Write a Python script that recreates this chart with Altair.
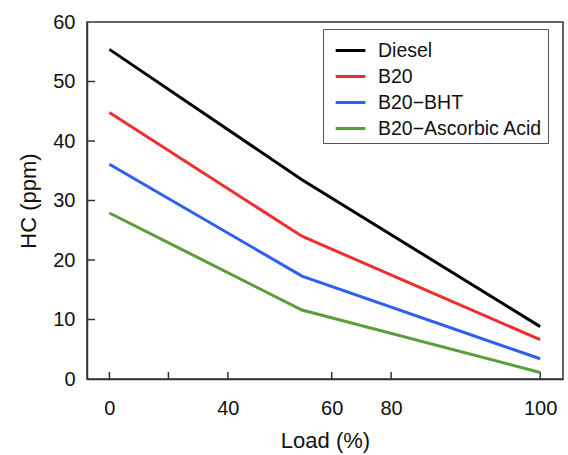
import altair as alt
import pandas as pd

# Load positions (in the chart's own axis units) and HC values
load = [0, 44.7, 100]
diesel = [55.4, 33.5, 8.8]
b20 = [44.8, 24.0, 6.6]
b20_bht = [36.1, 17.3, 3.4]
b20_aa = [27.9, 11.6, 1.1]

series_names = ["Diesel", "B20", "B20\u2212BHT", "B20\u2212Ascorbic Acid"]
series_colors = ["#000000", "#ee2f2f", "#2f5fee", "#5a9e3a"]

# Axis ticks as drawn in the figure
x_tick_pos = [0, 13.7, 27.5, 51.6, 65.4, 100]
x_tick_lab = ["0", "", "40", "60", "80", "100"]
y_ticks = [0, 10, 20, 30, 40, 50, 60]

rows = []
for name, vals in zip(series_names, [diesel, b20, b20_bht, b20_aa]):
    for l, v in zip(load, vals):
        rows.append({"load": l, "hc": v, "series": name})
df = pd.DataFrame(rows)

W, H = 476, 357
FONT = "Liberation Sans"

label_map = "{" + ",".join(f"'{p}':'{t}'" for p, t in zip(x_tick_pos, x_tick_lab)) + "}"

xscale = alt.Scale(domain=[-5.2, 105.3], nice=False, zero=False)
yscale = alt.Scale(domain=[0, 60], nice=False)

lines = alt.Chart(df).mark_line(strokeWidth=3).encode(
    x=alt.X("load:Q", scale=xscale,
            axis=alt.Axis(values=x_tick_pos, labelExpr=f"{label_map}[toString(datum.value)]",
                          title="Load (%)", tickSize=0, labelPadding=19, grid=False,
                          labelFontSize=20, labelFont=FONT, labelColor="#111",
                          titleFontSize=22, titleFont=FONT, titleFontWeight="normal",
                          titleColor="#111", titleX=W / 2, titleY=61,
                          titleBaseline="middle", titleAlign="center",
                          domainColor="#333", domainWidth=1.5, labelFlush=False)),
    y=alt.Y("hc:Q", scale=yscale,
            axis=alt.Axis(values=y_ticks, title="HC (ppm)", tickSize=0, labelPadding=12,
                          grid=False, labelFontSize=20, labelFont=FONT, labelColor="#111",
                          titleFontSize=22, titleFont=FONT, titleFontWeight="normal",
                          titleColor="#111", titleX=-59, titleY=H / 2, titleAngle=-90,
                          titleBaseline="middle", titleAlign="center",
                          domainColor="#333", domainWidth=1.5, labelFlush=False)),
    color=alt.Color("series:N",
                    scale=alt.Scale(domain=series_names, range=series_colors),
                    sort=series_names,
                    legend=alt.Legend(title=None, orient="none", legendX=236, legendY=7,
                                      symbolType="stroke", symbolSize=880,
                                      symbolStrokeWidth=3, labelFontSize=19.5,
                                      labelFont=FONT, labelColor="#111", labelLimit=0,
                                      strokeColor="#555", padding=5,
                                      rowPadding=0, labelOffset=11,
                                      symbolOffset=6)),
)

xt = pd.DataFrame({"v": x_tick_pos})
yt = pd.DataFrame({"v": y_ticks[1:-1]})

xticks = alt.Chart(xt).mark_rule(color="#333", strokeWidth=1.5).encode(
    x=alt.X("v:Q", scale=xscale), y=alt.value(H), y2=alt.value(H - 7))
yticks = alt.Chart(yt).mark_rule(color="#333", strokeWidth=1.5).encode(
    y=alt.Y("v:Q", scale=yscale), x=alt.value(0), x2=alt.value(8))

chart = alt.layer(xticks, yticks, lines).properties(
    width=W, height=H,
    autosize=alt.AutoSizeParams(type="none"),
    padding={"left": 87, "top": 22, "right": 5, "bottom": 76},
    background="white",
).configure_view(stroke="#333", strokeWidth=1.5)

chart.save("out.html", embed_options={"renderer": "svg", "actions": False})
